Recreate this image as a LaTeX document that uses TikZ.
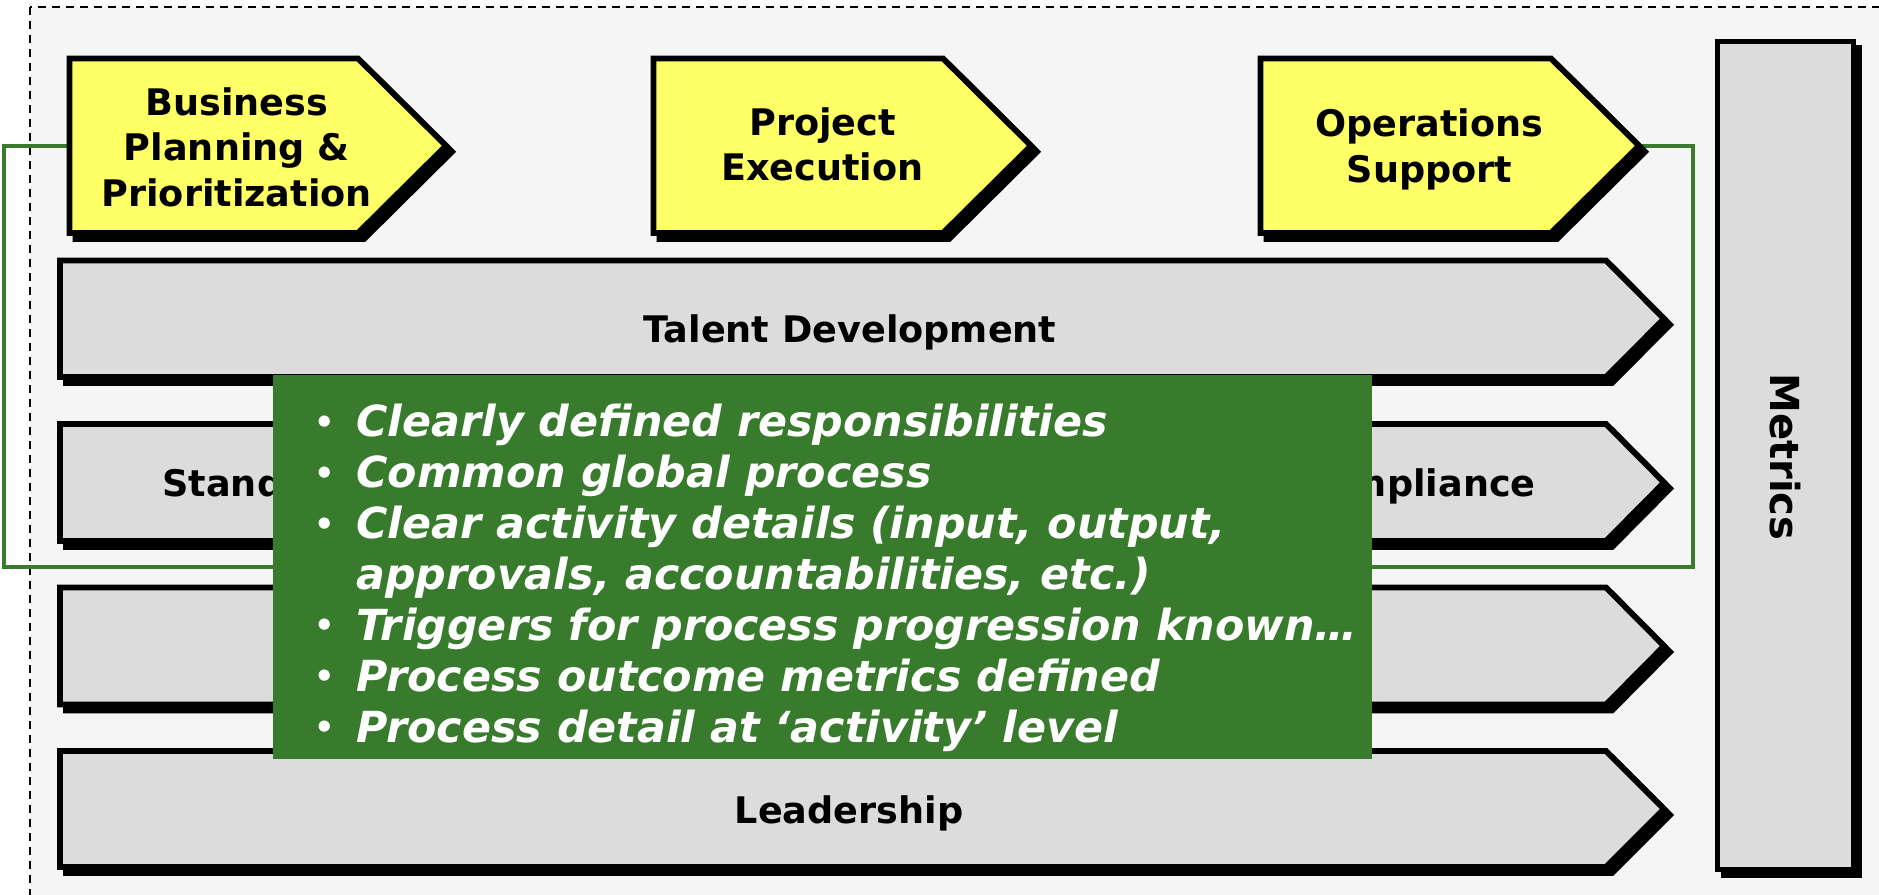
\documentclass[tikz,border=0pt]{standalone}
\usepackage{fontspec}
\setmainfont{DejaVu Sans}
\definecolor{framegray}{HTML}{F5F5F5}
\definecolor{lanegray}{HTML}{DCDCDC}
\definecolor{phaseyellow}{HTML}{FFFF66}
\definecolor{ctqgreen}{HTML}{387B2D}
\newcommand{\ctqbullet}{\makebox[22.7pt][l]{\hspace{1.5pt}\raisebox{1.7pt}{\fontsize{16}{16}\selectfont\bfseries\upshape •}}}
\begin{document}
\begin{tikzpicture}[x=0.5pt, y=-0.5pt,
    outline/.style={draw=black, line width=2.9pt,
      preaction={fill=black, draw=black, line width=2.9pt,
        transform canvas={shift={(3pt,-3pt)}}}},
    phase/.style={outline, fill=phaseyellow},
    lane/.style={outline, fill=lanegray},
    lbl/.style={inner sep=0pt, font=\fontsize{18.3}{22.75}\selectfont\bfseries},
    link/.style={draw=ctqgreen, line width=1.9pt}]
  \useasboundingbox (0,0) rectangle (1879,894);
  \fill[white] (0,0) rectangle (1879,894);
  \draw[fill=framegray, line width=0.7pt, dash pattern=on 4pt off 3pt]
    (30,7) rectangle (1900,910);

  % loop round the first two lanes
  \coordinate (bp-in) at (67,146);
  \coordinate (os-out) at (1642,146);
  \coordinate (loop-sw) at (4,567);
  \coordinate (loop-se) at (1693,567);
  \draw[link] (bp-in) -| (loop-sw) -- (loop-se) |- (os-out);

  % lanes
  \draw[lane] (60,260.5) -- (1606,260.5) -- (1664,318.75) -- (1606,377) -- (60,377) -- cycle;
  \draw[lane] (60,424) -- (1606,424) -- (1664,482.5) -- (1606,541) -- (60,541) -- cycle;
  \draw[lane] (60,587.5) -- (1606,587.5) -- (1664,646) -- (1606,704.5) -- (60,704.5) -- cycle;
  \draw[lane] (60,751) -- (1606,751) -- (1664,809) -- (1606,867) -- (60,867) -- cycle;
  \node[lbl, anchor=base] (talent) at (850,342.3) {Talent Development};
  \node[lbl, anchor=base west] (standards) at (162,496.7) {Standards};
  \node[lbl, anchor=base east] (compliance) at (1536,496.7) {Compliance};
  \node[lbl, anchor=base] (leadership) at (849,823.3) {Leadership};

  % phases
  \draw[phase] (69.5,58.5) -- (358,58.5) -- (446,145.75) -- (358,233) -- (69.5,233) -- cycle;
  \draw[phase] (653.5,58.5) -- (943,58.5) -- (1031,145.75) -- (943,233) -- (653.5,233) -- cycle;
  \draw[phase] (1260.5,58.5) -- (1551,58.5) -- (1639,145.75) -- (1551,233) -- (1260.5,233) -- cycle;
  \node[lbl, anchor=base] (bp) at (236.7,115)
    {\begin{tabular}[t]{@{}c@{}}Business\\Planning \&\\Prioritization\end{tabular}};
  \node[lbl, anchor=base] (pe) at (822.5,135)
    {\begin{tabular}[t]{@{}c@{}}Project\\Execution\end{tabular}};
  \node[lbl, anchor=base] (os) at (1429.5,136.7)
    {\begin{tabular}[t]{@{}c@{}}Operations\\Support\end{tabular}};

  % metrics
  \draw[outline, fill=lanegray] (1717.5,41.5) rectangle (1853.5,869.5);
  \node[rotate=-90, font=\fontsize{20}{24}\selectfont\bfseries] (metrics) at (1785,457) {Metrics};

  % callout
  \node[fill=ctqgreen, anchor=north west, inner sep=0pt,
    minimum width=549.5pt, minimum height=192pt] (ctq) at (273,375) {};
  \node[anchor=base west, inner sep=0pt, text=white,
    font=\fontsize{21.4}{25.45}\selectfont\bfseries\itshape] (ctq-text) at (310.6,436.7)
    {\begin{tabular}[t]{@{}l@{}}
      \ctqbullet Clearly defined responsibilities\\
      \ctqbullet Common global process\\
      \ctqbullet Clear activity details (input, output,\\
      \hspace{22.7pt}approvals, accountabilities, etc.)\\
      \ctqbullet Triggers for process progression known…\\
      \ctqbullet Process outcome metrics defined\\
      \ctqbullet Process detail at ‘activity’ level
    \end{tabular}};
\end{tikzpicture}
\end{document}
